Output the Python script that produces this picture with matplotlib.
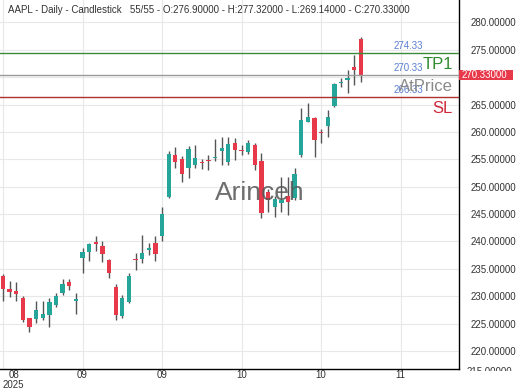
import matplotlib
matplotlib.use('Agg')
import matplotlib.pyplot as plt
from matplotlib.patches import Rectangle
from matplotlib.transforms import blended_transform_factory, Bbox

plt.rcParams['font.family'] = ['Liberation Sans', 'DejaVu Sans']

# daily candles, oldest first (55 bars)
opens = [233.7, 231.3, 230.95, 229.6, 225.95, 225.8, 226.0, 226.55, 228.4, 230.65,
         232.5, 229.15, 236.9, 238.1, 239.8, 239.2, 236.7, 231.6, 226.45, 229.0,
         236.8, 236.8, 238.5, 239.8, 241.0, 248.2, 255.8, 255.05, 253.35, 254.0,
         254.5, 254.85, 255.15, 256.5, 254.6, 257.9, 256.65, 256.4, 257.6, 254.7,
         249.1, 246.35, 247.0, 248.3, 247.9, 255.8, 261.9, 262.6, 260.0, 261.1,
         264.7, 268.9, 269.4, 271.8, 276.90]
highs = [234.0, 232.8, 232.5, 230.1, 226.0, 229.1, 229.1, 229.6, 230.65, 233.1,
         233.1, 230.65, 238.75, 239.8, 241.05, 240.0, 236.8, 232.2, 230.2, 234.2,
         237.85, 241.2, 239.8, 241.0, 246.2, 256.5, 257.2, 255.6, 257.5, 257.6,
         255.0, 255.8, 258.65, 259.1, 259.1, 258.85, 257.6, 258.5, 258.0, 256.2,
         249.5, 248.35, 251.7, 251.8, 253.35, 264.4, 265.2, 262.7, 260.5, 264.0,
         268.9, 269.8, 271.4, 274.05, 277.32]
lows = [229.1, 229.9, 229.1, 225.35, 223.5, 225.05, 225.65, 224.3, 228.0, 230.2,
        231.1, 226.75, 234.2, 236.5, 238.3, 236.2, 233.3, 225.65, 226.0, 228.7,
        234.8, 236.0, 237.5, 236.45, 240.0, 247.9, 253.5, 250.9, 251.5, 253.35,
        253.2, 253.05, 254.75, 254.0, 254.0, 254.9, 255.8, 256.0, 253.05, 244.2,
        245.4, 244.5, 245.3, 244.8, 247.5, 255.5, 261.8, 255.4, 257.9, 259.1,
        264.6, 268.3, 267.05, 268.6, 269.14]
closes = [231.4, 230.7, 230.35, 225.65, 224.45, 227.5, 226.75, 229.0, 230.1, 232.2,
          231.9, 229.25, 238.1, 239.5, 239.6, 237.7, 234.2, 226.55, 229.6, 233.7,
          236.6, 237.85, 238.65, 237.65, 245.0, 255.9, 254.45, 252.3, 256.9, 255.3,
          254.35, 254.7, 255.3, 257.1, 257.8, 256.7, 256.5, 257.9, 253.9, 245.2,
          247.6, 247.75, 247.5, 247.25, 252.25, 262.2, 262.7, 258.5, 259.8, 262.7,
          268.75, 269.05, 269.8, 271.3, 270.33]

tick_pos = [0, 12, 24, 36, 48, 60]
tick_labels = ['08\n2025', '09', '09', '10', '10', '11']
y_ticks = [220, 225, 230, 235, 240, 245, 250, 255, 260, 265, 270, 275, 280]

tp1 = 274.33
at_price = 270.33
sl = 266.33

up = '#26a69a'
down = '#e8394a'

fig = plt.figure(figsize=(5.2, 3.9), dpi=100)
ax = fig.add_axes([0, 21 / 390, 459 / 520, 369 / 390])

idx = list(range(len(opens)))
bottoms = [min(o, c) for o, c in zip(opens, closes)]
heights = [max(abs(c - o), 0.25) for o, c in zip(opens, closes)]
colors = [up if c >= o else down for o, c in zip(opens, closes)]

ax.vlines(idx, lows, highs, color='#555555', lw=1, zorder=2)
ax.bar(idx, heights, bottom=bottoms, width=0.65, color=colors, zorder=3)

ax.set_xlim(-0.45, 68.8)
ax.set_ylim(216.7, 284.1)

ax.grid(True, color='#e8e8e8', lw=0.8)
ax.set_axisbelow(True)
for s in ['left', 'top']:
    ax.spines[s].set_visible(False)
for s in ['right', 'bottom']:
    ax.spines[s].set_color('black')
    ax.spines[s].set_linewidth(1)

ax.yaxis.tick_right()
ax.set_yticks(y_ticks)
# the 270 label sits under the last-price tag
ax.set_yticklabels(['' if v == 270 else '%.5f' % v for v in y_ticks])
ax.tick_params(axis='y', length=0, pad=8, labelsize=7, labelcolor='#333333')
ax.set_xticks(tick_pos)
ax.set_xticklabels(tick_labels)
ax.tick_params(axis='x', length=0, pad=0.5, labelsize=7, labelcolor='#333333')
for lab in ax.get_xticklabels():
    lab.set_linespacing(1.0)
first = ax.get_xticklabels()[0]
first.set_ha('left')
first.set_multialignment('center')

# partial labels at the edges of the price scale
tr = blended_transform_factory(ax.transAxes, ax.transData)
ax.text(1 + 8 / 459, 285, '285.00000', transform=tr, fontsize=7, color='#333333',
        va='center', ha='left')
t = ax.text(1 + 8 / 459, 217.07, '215.00000', transform=tr, fontsize=7, color='#333333',
            va='top', ha='left', clip_on=True)
t.set_clip_box(Bbox.from_extents(455, 19, 520, 390))

# levels
ax.axhline(tp1, color='#3c8c3c', lw=1, zorder=4)
ax.axhline(at_price, color='#9a9a9a', lw=1, zorder=4)
ax.axhline(sl, color='#b03030', lw=1, zorder=4)

for lvl in [tp1, at_price, sl]:
    ax.annotate('%.2f' % lvl, xy=(394 / 459, lvl), xycoords=tr, xytext=(0, 1.5),
                textcoords='offset points', fontsize=7, color='#5a7fd0',
                ha='left', va='bottom', zorder=6)

big = [('TP1', tp1, '#2e8b2e'), ('AtPrice', at_price, '#8a8a8a'), ('SL', sl, '#d0283a')]
for name, lvl, col in big:
    ax.annotate(name, xy=(453 / 459, lvl), xycoords=tr, xytext=(0, -2.5),
                textcoords='offset points', fontsize=12, color=col,
                ha='right', va='top', zorder=6)

# last price tag
ax.add_patch(Rectangle((1.0, closes[-1] - 0.9), 54 / 459, 1.8, transform=tr,
                       fc=down, ec='none', clip_on=False, zorder=8))
ax.text(1 + 3 / 459, closes[-1], '270.33000', transform=tr, fontsize=7, color='white',
        va='center', ha='left', zorder=9)

ax.text(260 / 459, 1 - 193 / 369, 'Arinceh', transform=ax.transAxes, fontsize=19,
        color='#555555', alpha=0.85, ha='center', va='center', zorder=7)

fig.text(8 / 520, 1 - 10 / 390,
         'AAPL - Daily - Candlestick   55/55 - O:276.90000 - H:277.32000 - L:269.14000 - C:270.33000',
         fontsize=7, color='#333333', ha='left', va='center')

fig.savefig('out.png', dpi=100)
